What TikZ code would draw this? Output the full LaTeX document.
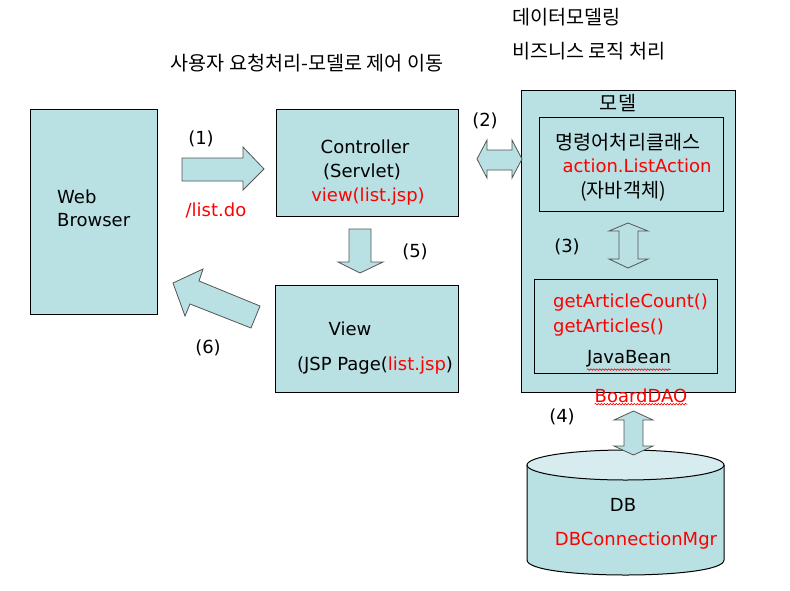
\documentclass[tikz,border=0pt]{standalone}
\usepackage{fontspec}
\setmainfont{DejaVu Sans}
\newfontfamily\krfont[Scale=1.09]{Noto Sans CJK KR}
\usetikzlibrary{decorations.pathmorphing}
\definecolor{boxfill}{RGB}{185,224,227}
\definecolor{dbtop}{RGB}{214,236,238}
\definecolor{arrowline}{RGB}{85,85,85}

\begin{document}
\begin{tikzpicture}[x=1pt, y=-1pt, inner sep=0pt, font=\fontsize{18}{24}\selectfont,
    box/.style={fill=boxfill, draw=black, line width=1pt},
    blockarrow/.style={fill=boxfill, draw=arrowline, line width=0.8pt},
    squiggle/.style={red, line width=0.6pt, decorate, decoration={snake, amplitude=0.8pt, segment length=3pt}}]
        \useasboundingbox (0,0) rectangle (790,590);

        % Boxes
        \draw[box] (30,109) rectangle (157,314);
        \draw[box] (276,109) rectangle (458,216);
        \draw[box] (275,285) rectangle (458,392);
        \draw[box] (521,90) rectangle (735,392);
        \draw[line width=0.8pt] (539,117) rectangle (723,211);
        \draw[line width=0.8pt] (534,279) rectangle (717,373);

        % DB cylinder
        \draw[box] (527,465) -- (527,560) .. controls (527,580) and (724,580) .. (724,560) -- (724,465);
        \draw[box, fill=dbtop] (625.5,465) ellipse [x radius=98.5, y radius=15];

        % Block arrows
        \draw[blockarrow] (182,158) -- (243,158) -- (243,147) -- (264,169) -- (243,190) -- (243,181) -- (182,181) -- cycle;
        \draw[blockarrow] (477,159) -- (487,140) -- (487,150) -- (512,150) -- (512,140) -- (522,159) -- (512,178) -- (512,170) -- (487,170) -- (487,178) -- cycle;
        \draw[blockarrow] (628,223) -- (648,231) -- (638,231) -- (638,259) -- (648,259) -- (628,268) -- (609,259) -- (619,259) -- (619,231) -- (609,231) -- cycle;
        \draw[blockarrow] (633.5,411) -- (653,420) -- (643,420) -- (643,446) -- (653,446) -- (633.5,455) -- (614,446) -- (624,446) -- (624,420) -- (614,420) -- cycle;
        \draw[blockarrow] (349,229) -- (371,229) -- (371,262) -- (383,262) -- (360,273) -- (338,262) -- (349,262) -- cycle;
        \draw[blockarrow] (173,283) -- (203,269) -- (199,281) -- (260,306) -- (251,328) -- (190,304) -- (185,316) -- cycle;

        % Titles
        \node[anchor=west] (modeling) at (512,17) {\krfont 데이터모델링};
        \node[anchor=west] (bizlogic) at (512,51) {\krfont 비즈니스 로직 처리};
        \node (request) at (307,63) {\krfont 사용자 요청처리-모델로 제어 이동};

        % Labels
        \node[anchor=west] (web) at (57,197) {Web};
        \node[anchor=west] (browser) at (57,220) {Browser};
        \node (step1) at (201,139) {(1)};
        \node[text=red] (listdo) at (216,210) {/list.do};
        \node (ctrl) at (365,147) {Controller};
        \node (servlet) at (362,172) {(Servlet)};
        \node[text=red] (viewjsp) at (368,197) {view(list.jsp)};
        \node (step2) at (485,121) {(2)};
        \node (model) at (618,103) {\krfont 모델};
        \node (cmdclass) at (628,142) {\krfont 명령어처리클래스};
        \node[text=red] (action) at (637,166) {action.ListAction};
        \node (javaobj) at (623,191) {\krfont (자바객체)};
        \node (step3) at (567,247) {(3)};
        \node[anchor=west, text=red] (count) at (553,303) {getArticleCount()};
        \node[anchor=west, text=red] (articles) at (553,328) {getArticles()};
        \node (javabean) at (629,359) {JavaBean};
        \node[text=red] (dao) at (641,396) {BoardDAO};
        \node (step4) at (562,417) {(4)};
        \node (db) at (623,505) {DB};
        \node[text=red] (dbmgr) at (636,541) {DBConnectionMgr};
        \node (step5) at (415,252) {(5)};
        \node (view) at (350,329) {View};
        \node (jsp) at (375,366) {(JSP Page(\textcolor{red}{list.jsp})};
        \node (step6) at (208,348) {(6)};

        % Spell-check marks
        \draw[squiggle] ([yshift=-2pt]javabean.south west) -- ([yshift=-2pt]javabean.south east);
        \draw[squiggle] ([yshift=-1pt]dao.south west) -- ([yshift=-1pt]dao.south east);
\end{tikzpicture}
\end{document}
